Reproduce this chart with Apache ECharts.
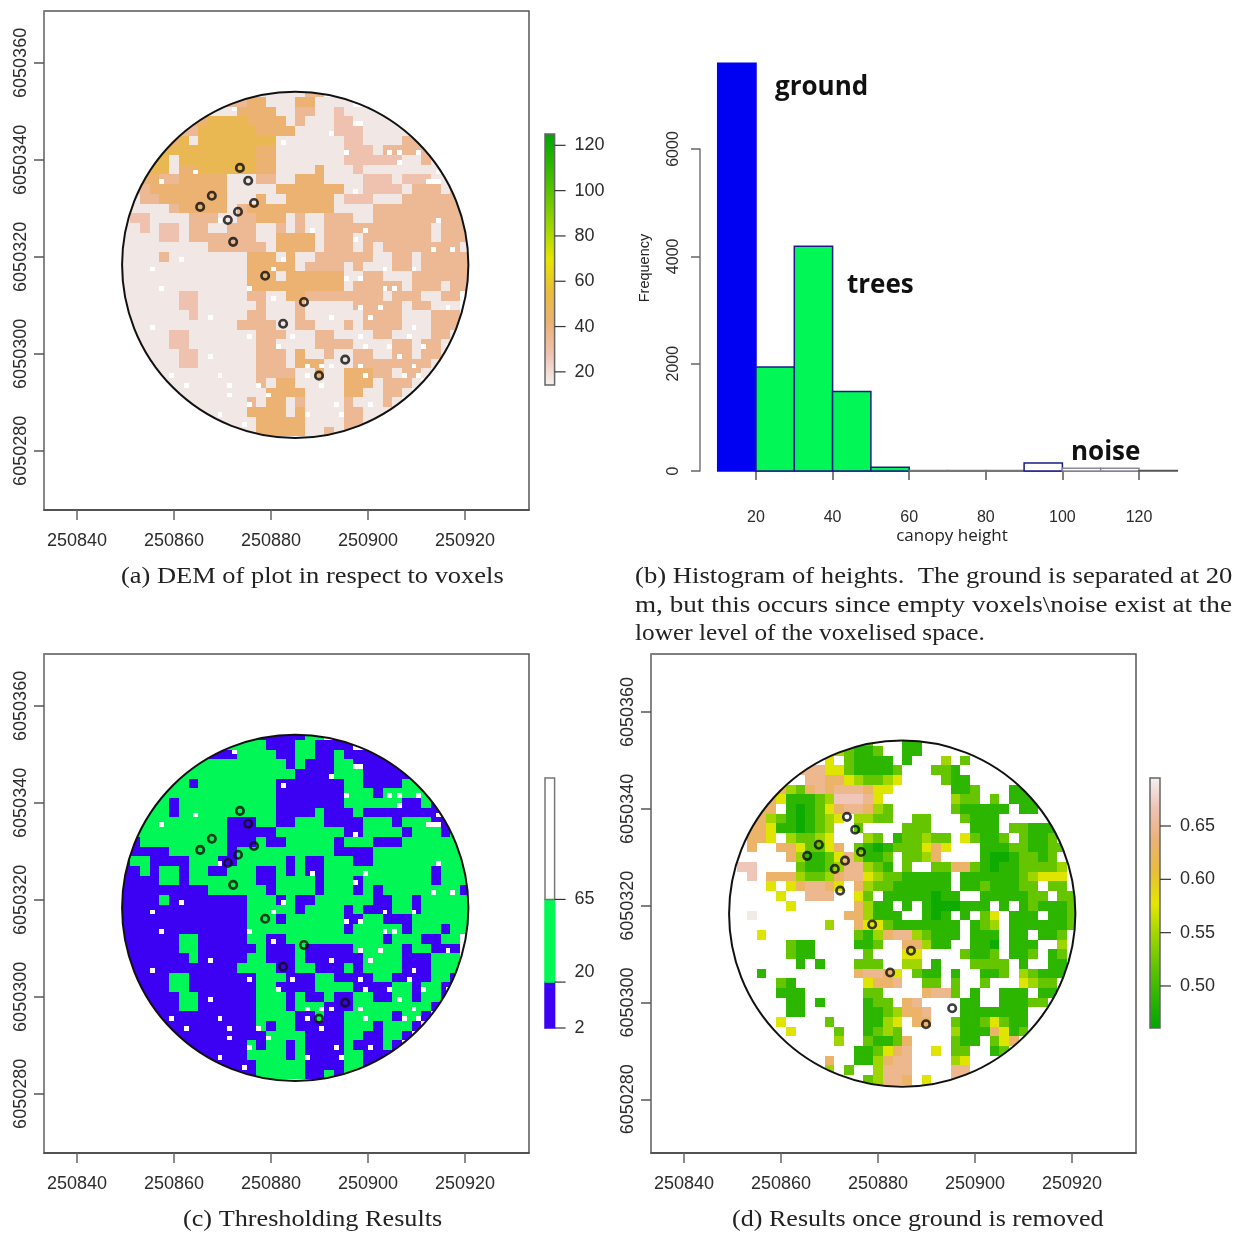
<!DOCTYPE html>
<html><head><meta charset="utf-8">
<style>html,body{margin:0;padding:0;background:#fff}#c{width:1236px;height:1233px}</style>
<script src="https://cdn.jsdelivr.net/npm/echarts@6/dist/echarts.min.js"></script>
</head><body><div id="c"></div>
<script>
const xTicks=[250840,250860,250880,250900,250920];
const yTicks=[6050280,6050300,6050320,6050340,6050360];
const histBins=[10,20,30,40,50,60,70,80,90,100,110,120,130];
const histCounts=[7600,1940,4190,1480,70,10,10,10,150,50,50,10];
const histColors=['#0000f2','#00f755','#00f755','#00f755','#00f755','#fff','#fff','#fff','#fff','#fff','#fff','#fff'];
const histEdges=['#0000f2','#1c1c86','#1c1c86','#1c1c86','#1c1c86','#777','#777','#777','#1c1c86','#8a8a9a','#8a8a9a','#555'];
const histXTicks=[20,40,60,80,100,120];
const histYTicks=[0,2000,4000,6000];
const demTicks=[20,40,60,80,100,120];
const ratioTicks=[0.5,0.55,0.6,0.65];
const heightLevels={1:17,2:29,3:35,4:43,5:50};
const ratioLevels={1:0.47,2:0.49,3:0.52,4:0.548,5:0.575,6:0.63,7:0.648,8:0.668,9:0.69};
const heightRows=[
"..............1111133...............",
"...........3344111441111............",
".........1114444113311211111........",
".......4455554444131112211111.......",
"......335555554444111122211111......",
".....45155555555111111122111133.....",
"....5555555555441111111222133333....",
"...551555555554411111112222221131...",
"..3551445555554411114111211111111...",
"..44334444411133114441111222122211..",
".3344444444111114444444112222133313.",
".1334444444111411444441222111333333.",
".1111344444134444444441111333333333.",
"122111133311334441311333113333333333",
"112122133113331131311333333333331333",
"111122133333331144441333133333331333",
"111111111333333144441333131333333331",
"111131111111144414113333331133133333",
"111111111111144444133331311133133333",
"111111111111144414444441133111333333",
"111111111111144444444441333331333133",
"11111122111113311443333333313331133.",
"11111122111111311131111133333133111.",
"11111112111113311131111113333111333.",
"11111111111133331133111313333111333.",
"11111221111111333111331111331111331.",
".1111221111111331111333311113313311.",
".111112211111133314113113311331331..",
"..1111221111113331444111333333331...",
"..111111111111333311411444331331....",
"...1111111111131441111144413331.....",
"...111111111111444411114411331......",
"....1111111113144131111311131.......",
".....11111111444414111133111........",
"......111111114444411113311.........",
"...........11144444113131..........."];
const ratioRows=[
"..............3...22................",
"...........43223..22................",
"..........5.32222.2...4.3...........",
".......77755322223...332............",
"........7766543345....322...........",
".....643676777655......223...22.....",
"....652223488875.......433.3.222....",
"...66.21235677643......322222.22....",
"..6643212345.4433..33...3222........",
"..665221234..3....333....222.33222..",
"..665.43345...43.233433.53223.3223..",
"..6..6653356.3212333565...222332233.",
"......64223574223.3346....21123323..",
".88....3223477432.3..33663212233334.",
"..8.6664334677543322222.22222234555.",
"....5.567765.6433222222.22322233.33.",
".....5..777..53.22222122..2222233.33",
"......5......6422.2.2111222.2.232223",
"..9.........664222..212.2.35.222.223",
"..........4..65532222222.234.2222223",
"...5.........32467743222.222.22.223.",
"......322....223..66422..221.222..4.",
"......322.....3...55....3223.223.23.",
".......2.2...333..44.2...3333.2..22.",
"...2.........67765.322.2..223.43222.",
".....32.......5667..33.3..3...5433..",
".....222......33....6773.2..222.22..",
"......22.2....233.67....22..22233...",
"......22......2234667...2222222.....",
".....5....3...2245.66..32235322.....",
"......5....3..2343.....42226523.....",
"...........4..32236....322.356......",
".............223567..5.33..23.......",
"..........6..224677....45...........",
"..........4.3..4777....77...........",
"..............34776.5..77..........."];
const gapX=[872,897,898,892,882,895,904,906,910,906,864,914,857,912,913,914,897,869,888,899,914,897,917,913,861,855,857,875,880,882,895,898,903,909,903,905,880,902,898,916,867,892,900,855,909,875,884,898,908,881,899,904,911,916,867,906,887,890,892,898,909,859,869,887,899,907,910,862,871,877,890,871,879,875,893,900,887,894,874,869];
const gapY=[350,347,347,345,343,341,341,341,341,339,337,337,335,335,335,335,333,327,325,325,327,323,321,321,319,317,313,313,317,319,315,315,317,317,313,313,311,309,309,309,307,307,307,305,305,303,303,303,303,301,301,301,301,301,299,299,297,297,297,297,297,295,295,295,295,295,295,293,293,293,293,291,291,289,289,289,287,287,285,287];
const treeX=[873.6,875.3,876.5,873.2,871.1,872.2,867.8,865.4,878.8,886.8,882.5,895.3,889.9];
const treeY=[338.35,335.7,331.1,329.3,327.6,323.1,332.6,330.3,316.1,310.7,306.2,298.8,295.5];
const X0=250000,Y0=6050000;
const plotCentre=[250885,6050318.35],plotRadius=35.7;

const terrain=['#00A600','#2DB600','#63C600','#A0D600','#E6E600','#E9BD3A','#ECB176','#EFC2B3','#F2F2F2'];
const ramp=(v,lo,hi)=>echarts.color.lerp(Math.max(0,Math.min(1,(v-lo)/(hi-lo))),terrain);
const demColor=v=>ramp(139.2-v,14.2,125);
const ratioColor=v=>ramp(v,0.4606,0.695);
const classColor=v=>v<20?'#3c00f2':'#00f755';
const fontS='"Liberation Sans",Arial,sans-serif';

function cells(rows,levels){
  const out=[];
  rows.forEach((r,j)=>{for(let i=0;i<r.length;i++){const c=r[i];if(c!=='.')out.push([X0+850+2*i,Y0+354-2*j,levels[c]]);}});
  return out;
}
const rectAt=(api,x0,y0,x1,y1,fill)=>{
  const a=api.coord([x0,y1]),b=api.coord([x1,y0]);
  const l=Math.round(a[0]),t=Math.round(a[1]),r=Math.round(b[0]),bo=Math.round(b[1]);
  return {type:'rect',shape:{x:l,y:t,width:r-l,height:bo-t},style:{fill}};
};
function raster(idx,data,color){
  return {type:'custom',xAxisIndex:idx,yAxisIndex:idx,z:2,silent:true,data,encode:{x:0,y:1},
    renderItem:(p,api)=>{const x=api.value(0),y=api.value(1);return rectAt(api,x-1,y-1,x+1,y+1,color(api.value(2)));}};
}
function gaps(idx){
  return {type:'custom',xAxisIndex:idx,yAxisIndex:idx,z:3,silent:true,data:gapX.map((x,i)=>[X0+x,Y0+gapY[i]]),encode:{x:0,y:1},
    renderItem:(p,api)=>{const x=api.value(0),y=api.value(1);return rectAt(api,x,y,x+1,y+1,'#fff');}};
}
function rim(idx){
  return {type:'custom',xAxisIndex:idx,yAxisIndex:idx,z:4,silent:true,data:[plotCentre],encode:{x:0,y:1},
    renderItem:(p,api)=>{
      const c=api.coord([api.value(0),api.value(1)]);
      const r=api.size([plotRadius,0])[0];
      return {type:'group',children:[
        {type:'ring',shape:{cx:c[0],cy:c[1],r:r+40,r0:r},style:{fill:'#fff'}},
        {type:'circle',shape:{cx:c[0],cy:c[1],r},style:{fill:'none',stroke:'#111',lineWidth:2}}]};
    }};
}
function trees(idx){
  return {type:'scatter',xAxisIndex:idx,yAxisIndex:idx,z:5,silent:true,symbol:'circle',symbolSize:7.5,
    itemStyle:{color:'rgba(0,0,0,0)',borderColor:'#0d0d0d',borderWidth:2.6},
    data:treeX.map((x,i)=>[X0+x,Y0+treeY[i]])};
}
const mapAxisX=(grid,min,max)=>({type:'value',gridIndex:grid,min,max,position:'bottom',splitLine:{show:false},
  axisLine:{show:true,lineStyle:{color:'#444',width:1.5}},
  axisTick:{show:true,length:10,customValues:xTicks,lineStyle:{color:'#666',width:1.5}},
  axisLabel:{show:true,customValues:xTicks,margin:22,fontSize:18,color:'#2c2c2c',fontFamily:fontS,formatter:v=>String(v),hideOverlap:false}});
const mapAxisY=(grid,min,max)=>({type:'value',gridIndex:grid,min,max,position:'left',splitLine:{show:false},
  axisLine:{show:true,lineStyle:{color:'#888',width:1.5}},
  axisTick:{show:true,length:10,customValues:yTicks,lineStyle:{color:'#555',width:1.5}},
  axisLabel:{show:true,customValues:yTicks,rotate:90,margin:14,fontSize:18,color:'#2c2c2c',fontFamily:fontS,formatter:v=>String(v),hideOverlap:false}});
const mapGrid=(left,top)=>({left,top,width:485,height:499,show:true,borderColor:'#555',borderWidth:1.5,backgroundColor:'#fff'});
const hiddenX=g=>({type:'value',gridIndex:g,min:0,max:1,show:false});
const barY=(g,min,max,ticks,fmt)=>({type:'value',gridIndex:g,min,max,position:'right',splitLine:{show:false},
  axisLine:{show:true,lineStyle:{color:'#666',width:1}},
  axisTick:{show:false},
  axisLabel:{show:true,customValues:ticks,margin:20,fontSize:18,color:'#2c2c2c',fontFamily:fontS,formatter:fmt,hideOverlap:false}});
function barTicks(g,ticks){
  return {type:'custom',xAxisIndex:g,yAxisIndex:g,silent:true,z:5,data:ticks.map(t=>[1,t]),encode:{x:0,y:1},
    renderItem:(p,api)=>{
      const a=api.coord([1,api.value(1)]);
      return {type:'line',shape:{x1:a[0],y1:a[1],x2:a[0]+11,y2:a[1]},style:{stroke:'#333',lineWidth:1.2}};
    }};
}
function gradientBar(g,lo,hi,color){
  return {type:'custom',xAxisIndex:g,yAxisIndex:g,silent:true,data:[[0,lo,1,hi]],encode:{x:0,y:1},
    renderItem:(p,api)=>{
      const a=api.coord([0,api.value(3)]),b=api.coord([1,api.value(1)]);
      const stops=[0,0.125,0.25,0.375,0.5,0.625,0.75,0.875,1].map(o=>({offset:o,color:color(hi-(hi-lo)*o)}));
      return {type:'rect',shape:{x:a[0],y:a[1],width:b[0]-a[0],height:b[1]-a[1]},
        style:{fill:new echarts.graphic.LinearGradient(0,0,0,1,stops),stroke:'#666',lineWidth:1.5}};
    }};
}
const classStops=[0,18,50.4,98];
const classLabelAt=[0,21.9,50.4];
const classLabels=['2','20','65'];
const classFills=['#3c00f2','#00f755','#ffffff'];
const captions=[
 ['(a) DEM of plot in respect to voxels',121,577,1.15],
 ['(b) Histogram of heights.  The ground is separated at 20',635,577,1.159],
 ['m, but this occurs since empty voxels\\noise exist at the',635,606,1.18],
 ['lower level of the voxelised space.',635,634,1.10],
 ['(c) Thresholding Results',183,1220,1.14],
 ['(d) Results once ground is removed',732,1220,1.134]];
const notes=[['ground',775,88],['trees',847,286],['noise',1071,453]];

const option={animation:false,backgroundColor:'#fff',
 grid:[mapGrid(44,11),{left:756,top:149,width:383,height:322},mapGrid(44,654),mapGrid(651,654),
  {left:545,top:134,width:9.6,height:251},
  {left:545,top:778,width:9.6,height:250},
  {left:1150,top:778,width:10,height:250}],
 xAxis:[mapAxisX(0,250833.2,250933.2),
  {type:'value',gridIndex:1,min:20,max:120,position:'bottom',offset:19,splitLine:{show:false},
   axisLine:{show:true,lineStyle:{color:'#444',width:1.5}},axisTick:{length:9,customValues:histXTicks,lineStyle:{color:'#555',width:1.5}},
   axisLabel:{customValues:histXTicks,margin:20,fontSize:16,color:'#2c2c2c',fontFamily:fontS,formatter:v=>String(v),hideOverlap:false}},
  mapAxisX(2,250833.2,250933.2),mapAxisX(3,250833.2,250933.2),hiddenX(4),hiddenX(5),hiddenX(6)],
 yAxis:[mapAxisY(0,6050267.8,6050370.7),
  {type:'value',gridIndex:1,min:0,max:6000,position:'left',offset:56,splitLine:{show:false},
   axisLine:{show:true,lineStyle:{color:'#777',width:1.5}},axisTick:{length:9,customValues:histYTicks,lineStyle:{color:'#666',width:1.5}},
   axisLabel:{customValues:histYTicks,rotate:90,margin:18,fontSize:16,color:'#2c2c2c',fontFamily:fontS,formatter:v=>String(v),hideOverlap:false}},
  mapAxisY(2,6050267.8,6050370.7),mapAxisY(3,6050268.9,6050372),
  barY(4,14.2,125,demTicks,v=>String(v)),
  barY(5,0,98,classLabelAt,v=>classLabels[classLabelAt.indexOf(v)]),
  barY(6,0.4606,0.695,ratioTicks,v=>v.toFixed(2))],
 series:[
  raster(0,cells(heightRows,heightLevels),demColor),gaps(0),rim(0),trees(0),
  {type:'custom',xAxisIndex:1,yAxisIndex:1,silent:true,z:3,encode:{x:[0,1],y:2},
   data:histCounts.map((c,i)=>[histBins[i],histBins[i+1],c,i]),
   renderItem:(p,api)=>{
     const a=api.coord([api.value(0),api.value(2)]),b=api.coord([api.value(1),0]);
     const i=api.value(3);
     return {type:'rect',shape:{x:a[0],y:a[1],width:b[0]-a[0],height:b[1]-a[1]},
       style:{fill:histColors[i],stroke:histEdges[i],lineWidth:1.5}};
   }},
  raster(2,cells(heightRows,heightLevels),classColor),gaps(2),rim(2),trees(2),
  raster(3,cells(ratioRows,ratioLevels),ratioColor),rim(3),trees(3),
  gradientBar(4,14.2,125,demColor),barTicks(4,demTicks),
  {type:'custom',xAxisIndex:5,yAxisIndex:5,silent:true,encode:{x:0,y:1},
   data:classFills.map((f,i)=>[0,classStops[i],1,classStops[i+1],i]),
   renderItem:(p,api)=>{
     const a=api.coord([0,api.value(3)]),b=api.coord([1,api.value(1)]);
     return {type:'rect',shape:{x:a[0],y:a[1],width:b[0]-a[0],height:b[1]-a[1]},
       style:{fill:classFills[api.value(4)],stroke:api.value(4)===2?'#777':classFills[api.value(4)],lineWidth:1.5}};
   }},
  barTicks(5,classStops.slice(0,3)),
  gradientBar(6,0.4606,0.695,ratioColor),barTicks(6,ratioTicks)
 ],
 graphic:{elements:[
  ...captions.map(c=>({type:'text',x:c[1],y:c[2],scaleX:c[3],silent:true,z:10,
    style:{text:c[0],fill:'#222',font:'23px "Liberation Serif",serif',verticalAlign:'middle'}})),
  ...notes.map(n=>({type:'text',x:n[1],y:n[2],silent:true,z:10,
    style:{text:n[0],fill:'#111',font:'bold 26px "Open Sans",sans-serif',verticalAlign:'middle'}})),
  {type:'text',x:645,y:268,rotation:Math.PI/2,silent:true,
    style:{text:'Frequency',fill:'#222',font:'14.5px '+fontS,align:'center',verticalAlign:'middle'}},
  {type:'text',x:952,y:536,silent:true,
    style:{text:'canopy height',fill:'#222',font:'17px "Open Sans",sans-serif',align:'center',verticalAlign:'middle'}}
 ]}
};
echarts.init(document.getElementById('c'),null,{renderer:'canvas'}).setOption(option);
</script></body></html>
